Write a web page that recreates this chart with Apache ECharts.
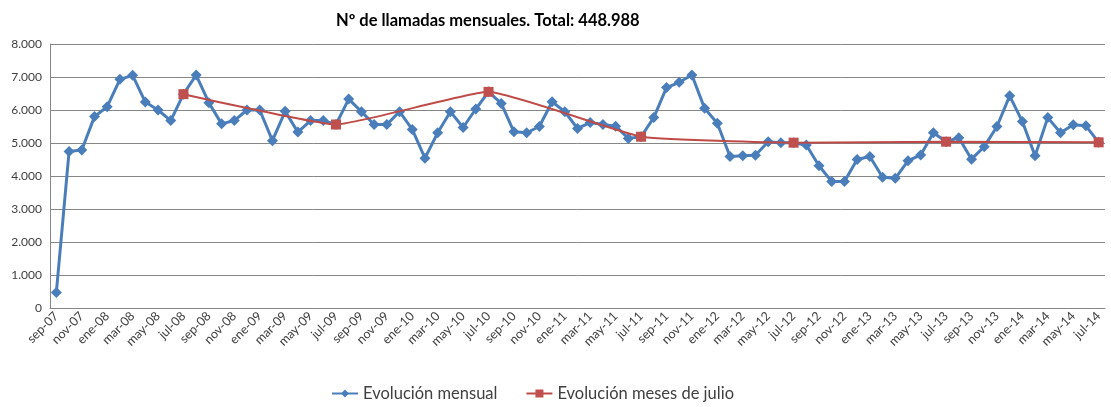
<!DOCTYPE html>
<html>
<head>
<meta charset="utf-8">
<script src="https://cdn.jsdelivr.net/npm/echarts@6/dist/echarts.min.js"></script>
<style>
  html, body { margin: 0; padding: 0; background: #fff; }
  #chart { width: 1111px; height: 407px; }
</style>
</head>
<body>
<div id="chart"></div>
<script>
  // meses sep-07 .. jul-14
  var monthNames = ['ene', 'feb', 'mar', 'abr', 'may', 'jun', 'jul', 'ago', 'sep', 'oct', 'nov', 'dic'];
  var months = [];
  for (var y = 7; y <= 14; y++) {
    for (var m = 0; m < 12; m++) {
      if (y === 7 && m < 8) continue;
      if (y === 14 && m > 6) break;
      months.push(monthNames[m] + '-' + (y < 10 ? '0' + y : y));
    }
  }

  var mensual = [
    470, 4740, 4790, 5800,
    6100, 6930, 7050, 6240, 6000, 5680, 6480, 7060, 6220, 5580, 5680, 6000,
    6000, 5070, 5960, 5330, 5680, 5680, 5560, 6330, 5950, 5560, 5560, 5950,
    5410, 4540, 5310, 5950, 5470, 6030, 6550, 6200, 5340, 5310, 5500, 6250,
    5950, 5440, 5620, 5560, 5510, 5140, 5190, 5770, 6680, 6840, 7060, 6050,
    5600, 4590, 4610, 4630, 5040, 5010, 5010, 4940, 4310, 3830, 3830, 4500,
    4590, 3960, 3930, 4460, 4640, 5310, 5040, 5160, 4510, 4890, 5500, 6430,
    5650, 4610, 5770, 5310, 5550, 5520, 5020
  ];

  var julioMeses = ['jul-08', 'jul-09', 'jul-10', 'jul-11', 'jul-12', 'jul-13', 'jul-14'];
  var julioValores = [6480, 5560, 6550, 5190, 5010, 5040, 5020];

  var julioData = months.map(function (mo) {
    var k = julioMeses.indexOf(mo);
    return k >= 0 ? julioValores[k] : null;
  });

  var chart = echarts.init(document.getElementById('chart'));
  var fontFam = 'Lato, "DejaVu Sans", sans-serif';

  chart.setOption({
    animation: false,
    title: {
      text: 'Nº de llamadas mensuales. Total: 448.988',
      left: 331,
      top: 7,
      textStyle: { fontFamily: fontFam, fontSize: 16.5, fontWeight: 'bold', color: '#000' }
    },
    legend: {
      bottom: 0,
      left: 326,
      itemGap: 28,
      itemWidth: 26,
      itemHeight: 10,
      textStyle: { fontFamily: fontFam, fontSize: 16.5, color: '#404040' },
      data: ['Evolución mensual', 'Evolución meses de julio']
    },
    grid: { left: 50, right: 6, top: 44, bottom: 99 },
    xAxis: {
      type: 'category',
      data: months,
      boundaryGap: true,
      axisLine: { lineStyle: { color: '#868686' } },
      axisTick: { interval: 1, lineStyle: { color: '#bfbfbf' }, length: 4 },
      axisLabel: {
        interval: 1,
        rotate: 45,
        fontFamily: fontFam,
        fontSize: 12.5,
        color: '#404040',
        margin: 6
      }
    },
    yAxis: {
      type: 'value',
      min: 0,
      max: 8000,
      interval: 1000,
      axisLine: { show: true, lineStyle: { color: '#868686' } },
      axisTick: { show: false },
      splitLine: { lineStyle: { color: '#868686' } },
      axisLabel: {
        fontFamily: fontFam,
        fontSize: 12,
        color: '#404040',
        margin: 8,
        formatter: function (v) {
          return String(v).replace(/\B(?=(\d{3})+(?!\d))/g, '.');
        }
      }
    },
    series: [
      {
        name: 'Evolución mensual',
        type: 'line',
        data: mensual,
        symbol: 'diamond',
        symbolSize: 11,
        showAllSymbol: true,
        lineStyle: { color: '#4A7EBB', width: 3 },
        itemStyle: { color: '#4A7EBB' },
        z: 2
      },
      {
        name: 'Evolución meses de julio',
        type: 'line',
        data: julioData,
        connectNulls: true,
        smooth: 0.12,
        symbol: 'rect',
        symbolSize: 10,
        showAllSymbol: true,
        lineStyle: { color: '#BE4B48', width: 2 },
        itemStyle: { color: '#C0504D' },
        z: 3
      }
    ]
  });
</script>
</body>
</html>
